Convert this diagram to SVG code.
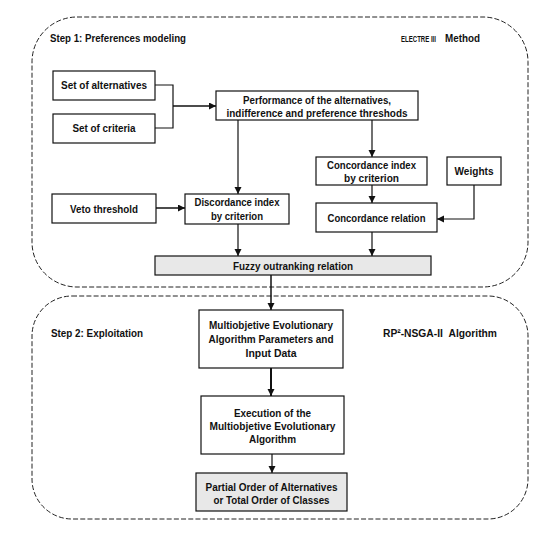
<svg xmlns="http://www.w3.org/2000/svg" width="547" height="534" viewBox="0 0 547 534">
<style>
text{font-family:"Liberation Sans",Arial,sans-serif;font-weight:bold;font-size:11.8px;fill:#111}
.c{text-anchor:middle}
.box{fill:#fff;stroke:#111;stroke-width:1.2}
.gray{fill:#e8e8e8;stroke:#111;stroke-width:1.2}
.frame{fill:none;stroke:#222;stroke-width:1;stroke-dasharray:5 2.2}
.ln{fill:none;stroke:#111;stroke-width:1.2}
.ar{fill:none;stroke:#111;stroke-width:1.2;marker-end:url(#ah)}
</style>
<defs>
<marker id="ah" markerUnits="userSpaceOnUse" markerWidth="8" markerHeight="8" refX="7" refY="3.5" orient="auto">
<path d="M0,0 L7,3.5 L0,7 Z" fill="#111"/>
</marker>
</defs>
<rect width="547" height="534" fill="#fff"/>
<g id="step1-frame">
<rect class="frame" x="32" y="17" width="496" height="270" rx="45" ry="45"/>
<text x="50" y="42" textLength="136" lengthAdjust="spacingAndGlyphs">Step 1: Preferences modeling</text>
<text transform="translate(401,42) scale(1,1.15)" x="0" y="0" style="font-size:7.2px" textLength="35" lengthAdjust="spacingAndGlyphs">ELECTRE III</text>
<text x="445" y="42" textLength="35" lengthAdjust="spacingAndGlyphs">Method</text>
</g>
<g id="step2-frame">
<rect class="frame" x="32" y="296" width="496" height="223" rx="40" ry="40"/>
<text x="51" y="337" textLength="92" lengthAdjust="spacingAndGlyphs">Step 2: Exploitation</text>
<text x="383" y="337" textLength="114" lengthAdjust="spacingAndGlyphs">RP²-NSGA-II &#160;Algorithm</text>
</g>
<g id="connectors">
<polyline class="ln" points="155,85 173,85 173,128 155,128"/>
<line class="ar" x1="173" y1="106" x2="216" y2="106" style="stroke-width:1.5"/>
<line class="ar" x1="238" y1="120" x2="238" y2="194"/>
<line class="ar" x1="372" y1="120" x2="372" y2="157"/>
<line class="ar" x1="156" y1="208" x2="185" y2="208" style="stroke-width:1.5"/>
<line class="ar" x1="372" y1="185" x2="372" y2="203"/>
<polyline class="ar" points="474,185 474,219 437,219"/>
<line class="ar" x1="238" y1="224" x2="238" y2="256"/>
<line class="ar" x1="372" y1="232" x2="372" y2="256"/>
<line class="ar" x1="271" y1="275" x2="271" y2="310" style="stroke-width:1.5"/>
<line class="ar" x1="271" y1="368" x2="271" y2="396" style="stroke-width:2"/>
<line class="ar" x1="272" y1="454" x2="272" y2="473"/>
</g>
<g id="set-alternatives">
<rect class="box" x="53" y="71" width="102" height="29"/>
<text class="c" x="104" y="89" textLength="86" lengthAdjust="spacingAndGlyphs">Set of alternatives</text>
</g>
<g id="set-criteria">
<rect class="box" x="53" y="114" width="102" height="29"/>
<text class="c" x="104" y="132" textLength="63" lengthAdjust="spacingAndGlyphs">Set of criteria</text>
</g>
<g id="performance">
<rect class="box" x="216" y="91" width="202" height="29"/>
<text class="c" x="317" y="104" textLength="148" lengthAdjust="spacingAndGlyphs">Performance of the alternatives,</text>
<text class="c" x="317" y="116.5" textLength="181" lengthAdjust="spacingAndGlyphs">indifference and preference threshods</text>
</g>
<g id="concordance-index">
<rect class="box" x="316" y="157" width="111" height="28"/>
<text class="c" x="371.5" y="169" textLength="89" lengthAdjust="spacingAndGlyphs">Concordance index</text>
<text class="c" x="371.5" y="181.5" textLength="55" lengthAdjust="spacingAndGlyphs">by criterion</text>
</g>
<g id="weights">
<rect class="box" x="447" y="157" width="54" height="28"/>
<text class="c" x="474" y="175" textLength="39" lengthAdjust="spacingAndGlyphs">Weights</text>
</g>
<g id="veto">
<rect class="box" x="52" y="194" width="104" height="29"/>
<text class="c" x="104" y="212.5" textLength="68" lengthAdjust="spacingAndGlyphs">Veto threshold</text>
</g>
<g id="discordance">
<rect class="box" x="185" y="194" width="104" height="30"/>
<text class="c" x="237" y="206" textLength="85" lengthAdjust="spacingAndGlyphs">Discordance index</text>
<text class="c" x="237" y="219.5" textLength="52" lengthAdjust="spacingAndGlyphs">by criterion</text>
</g>
<g id="concordance-relation">
<rect class="box" x="316" y="203" width="121" height="29"/>
<text class="c" x="376.5" y="222" textLength="98" lengthAdjust="spacingAndGlyphs">Concordance relation</text>
</g>
<g id="fuzzy">
<rect class="gray" x="155" y="256" width="276" height="19"/>
<text class="c" x="293" y="270" textLength="120" lengthAdjust="spacingAndGlyphs">Fuzzy outranking relation</text>
</g>
<g id="moea-params">
<rect class="box" x="199" y="310" width="144" height="58"/>
<text class="c" x="271" y="329" textLength="124" lengthAdjust="spacingAndGlyphs">Multiobjetive Evolutionary</text>
<text class="c" x="271" y="343" textLength="125" lengthAdjust="spacingAndGlyphs">Algorithm Parameters and</text>
<text class="c" x="271" y="357" textLength="51" lengthAdjust="spacingAndGlyphs">Input Data</text>
</g>
<g id="execution">
<rect class="box" x="201" y="396" width="143" height="58"/>
<text class="c" x="272.5" y="417" textLength="77" lengthAdjust="spacingAndGlyphs">Execution of the</text>
<text class="c" x="272.5" y="430" textLength="126" lengthAdjust="spacingAndGlyphs">Multiobjetive Evolutionary</text>
<text class="c" x="272.5" y="443" textLength="47" lengthAdjust="spacingAndGlyphs">Algorithm</text>
</g>
<g id="partial-order">
<rect class="gray" x="196" y="473" width="151" height="38"/>
<text class="c" x="271.5" y="491" textLength="132" lengthAdjust="spacingAndGlyphs">Partial Order of Alternatives</text>
<text class="c" x="271.5" y="503.5" textLength="116" lengthAdjust="spacingAndGlyphs">or Total Order of Classes</text>
</g>
</svg>
